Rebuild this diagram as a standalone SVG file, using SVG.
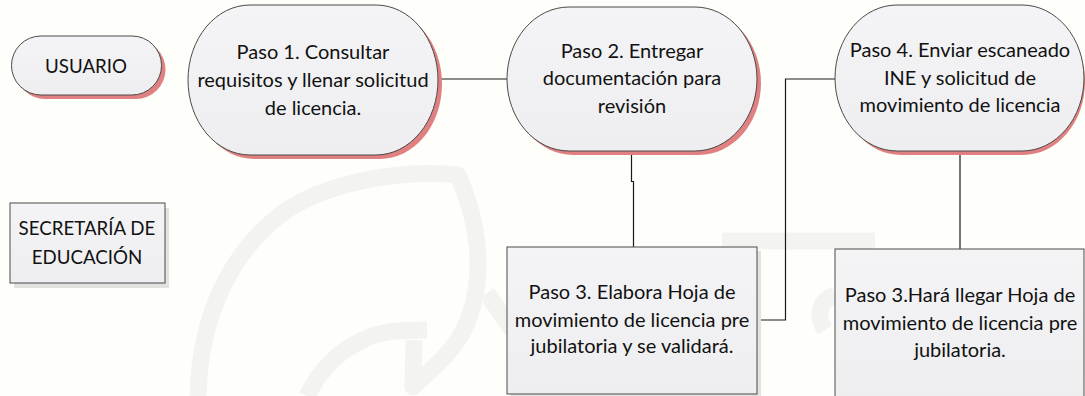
<svg xmlns="http://www.w3.org/2000/svg" width="1085" height="396" viewBox="0 0 1085 396">
<defs><linearGradient id="fillG" x1="0" y1="0" x2="0" y2="1"><stop offset="0" stop-color="#f4f4f6"/><stop offset="1" stop-color="#eeeef0"/></linearGradient></defs>
<style>
.n{fill:url(#fillG);stroke:#4a4a4a;stroke-width:1}
.sr{fill:#e08080}
.sg{fill:#e2e2e0}
.c{fill:none;stroke:#1a1a1a;stroke-width:1.2}
.w{fill:none;stroke:#f3f3f0;stroke-width:17;stroke-linecap:butt;stroke-linejoin:round}
text{font-family:"Lato","Liberation Sans",sans-serif;font-size:20px;fill:#111;text-anchor:middle}
text.caps{font-size:18.700px}
</style>
<rect width="1085" height="396" fill="#fefefa"/>
<g id="watermark">
<path class="w" d="M198 396C200 310 235 245 290 208C340 178 410 170 458 175C478 220 485 270 470 315C458 350 435 365 413 387L414 340"/>
<path class="w" d="M427 330C400 330 380 331 363 340C340 350 320 370 307 396"/>
<path class="w" d="M487 293L512 330"/>
<path class="w" d="M722 241H875" stroke-linecap="round"/>
<path class="w" d="M835 295C820 300 815 315 825 330" stroke-width="14"/>
</g>
<g id="connectors">
<path class="c" d="M438 79H507"/>
<path class="c" d="M631.500 151V181.500H633.500V247"/>
<path class="c" d="M757.500 320H785.500V79H835"/>
<path class="c" d="M960 151V249"/>
</g>
<g id="usuario"><rect class="sr" x="15.500" y="40" width="150" height="59" rx="29.500"/><rect class="n" x="11.500" y="36" width="150" height="59" rx="29.500"/><text class="caps" x="86" y="73">USUARIO</text></g>
<g id="secretaria"><rect class="sg" x="14" y="208" width="155" height="80"/><rect class="n" x="10" y="203" width="155" height="80"/><text class="caps" x="87" y="235">SECRETARÍA DE</text><text class="caps" x="87" y="264">EDUCACIÓN</text></g>
<g id="paso1"><rect class="sr" x="192" y="9" width="250" height="150" rx="62" ry="75"/><rect class="n" x="188" y="5" width="250" height="150" rx="62" ry="75"/><text x="313" y="59">Paso 1. Consultar</text><text x="313" y="87">requisitos y llenar solicitud</text><text x="313" y="115">de licencia.</text></g>
<g id="paso2"><rect class="sr" x="511" y="11" width="250" height="144" rx="62" ry="72"/><rect class="n" x="507" y="7" width="250" height="144" rx="62" ry="72"/><text x="632" y="58">Paso 2. Entregar</text><text x="632" y="85">documentación para</text><text x="632" y="113">revisión</text></g>
<g id="paso4"><rect class="sr" x="839" y="9" width="246" height="146" rx="62" ry="73"/><rect class="n" x="835" y="5" width="249" height="146" rx="62" ry="73"/><text x="960" y="57">Paso 4. Enviar escaneado</text><text x="960" y="85">INE y solicitud de</text><text x="960" y="112">movimiento de licencia</text></g>
<g id="paso3a"><rect class="sg" x="511" y="251" width="250" height="147"/><rect class="n" x="507" y="247" width="250" height="147"/><text x="632" y="299">Paso 3. Elabora Hoja de</text><text x="632" y="327">movimiento de licencia pre</text><text x="632" y="353">jubilatoria y se validará.</text></g>
<g id="paso3b"><rect class="n" x="835" y="249" width="249" height="160"/><text x="960" y="302">Paso 3.Hará llegar Hoja de</text><text x="960" y="330">movimiento de licencia pre</text><text x="960" y="357">jubilatoria.</text></g>
</svg>
